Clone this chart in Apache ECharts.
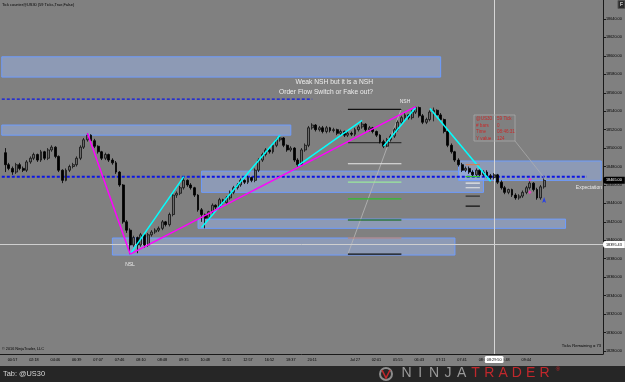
<!DOCTYPE html>
<html><head><meta charset="utf-8">
<script src="https://cdn.jsdelivr.net/npm/echarts@6/dist/echarts.min.js"></script>
<style>html,body{margin:0;padding:0;background:#808080;overflow:hidden}#c{width:625px;height:382px}</style>
</head><body><div id="c"></div>
<script>
// ---- data ----
const xLabels = ["00:57","02:18","04:46","06:39","07:07","07:46","08:10","08:48","09:35","10:48","11:51","12:57","16:52","18:37","20:11","","Jul 27","02:01","05:55","06:43","07:11","07:41","08:05","08:48","09:44"];
const yTicks = [18280,18300,18320,18340,18360,18380,18400,18420,18440,18460,18480,18500,18520,18540,18560,18580,18600,18620,18640];
const opens = [
18495,18482,18478,18474,18482,18478,18476,18485,18489,18493,
18487,18496,18489,18498,18501,18491,18476,18465,18476,18480,
18482,18489,18501,18509,18514,18508,18502,18496,18489,18493,
18487,18484,18474,18460,18420,18411,18395,18403,18395,18406,
18395,18406,18409,18411,18413,18420,18417,18428,18449,18451,
18457,18465,18460,18457,18449,18433,18428,18424,18431,18438,
18436,18444,18441,18446,18452,18457,18460,18465,18463,18468,
18465,18476,18487,18493,18498,18496,18503,18509,18511,18503,
18498,18500,18487,18482,18498,18503,18522,18525,18520,18522,
18518,18522,18519,18520,18516,18518,18514,18516,18515,18520,
18523,18526,18520,18522,18518,18514,18507,18502,18509,18513,
18520,18528,18533,18536,18533,18539,18544,18535,18528,18531,
18539,18541,18536,18531,18518,18503,18496,18487,18482,18476,
18478,18474,18471,18476,18471,18474,18470,18468,18471,18463,
18457,18452,18455,18449,18446,18448,18452,18457,18462,18455,
18446,18458];
const closes = [
18482,18478,18474,18482,18478,18476,18485,18489,18493,18487,
18496,18489,18498,18501,18491,18476,18465,18476,18480,18482,
18489,18501,18509,18514,18508,18502,18496,18489,18493,18487,
18484,18474,18460,18420,18411,18395,18403,18395,18406,18395,
18406,18409,18411,18413,18420,18417,18428,18449,18451,18457,
18465,18460,18457,18449,18433,18428,18424,18431,18438,18436,
18444,18441,18446,18452,18457,18460,18465,18463,18468,18465,
18476,18487,18493,18498,18496,18503,18509,18511,18503,18498,
18500,18487,18482,18498,18503,18522,18525,18520,18522,18518,
18522,18519,18520,18516,18518,18514,18516,18515,18520,18523,
18526,18520,18522,18518,18514,18507,18502,18509,18513,18520,
18528,18533,18536,18533,18539,18544,18535,18528,18531,18539,
18541,18536,18531,18518,18503,18496,18487,18482,18476,18478,
18474,18471,18476,18471,18474,18470,18468,18471,18463,18457,
18452,18455,18449,18446,18448,18452,18457,18462,18455,18446,
18458,18465];
const lows = [
18474,18476,18471,18472,18476,18474,18474,18483,18487,18485,
18485,18487,18487,18496,18489,18474,18462,18464,18474,18478,
18480,18487,18499,18507,18506,18500,18494,18487,18487,18485,
18482,18472,18458,18418,18408,18385,18393,18386,18393,18392,
18393,18404,18407,18409,18411,18415,18415,18426,18446,18449,
18455,18458,18455,18447,18431,18420,18413,18422,18429,18434,
18434,18439,18439,18444,18450,18455,18458,18461,18461,18463,
18463,18474,18485,18491,18494,18494,18501,18507,18501,18496,
18496,18485,18480,18481,18496,18501,18520,18518,18518,18516,
18516,18517,18517,18514,18514,18512,18512,18513,18513,18518,
18521,18518,18518,18516,18512,18505,18500,18501,18507,18511,
18518,18526,18531,18531,18531,18537,18533,18526,18526,18529,
18529,18534,18529,18516,18501,18494,18485,18480,18474,18474,
18472,18469,18469,18469,18469,18468,18466,18466,18461,18455,
18450,18450,18447,18444,18444,18446,18450,18455,18453,18444,
18444,18456];
const highs = [
18500,18484,18480,18484,18484,18480,18487,18491,18495,18494,
18498,18497,18500,18503,18502,18492,18477,18478,18482,18484,
18491,18503,18511,18516,18515,18510,18503,18497,18495,18494,
18489,18486,18475,18461,18422,18413,18405,18404,18408,18407,
18408,18411,18413,18415,18422,18421,18430,18450,18453,18459,
18469,18466,18462,18458,18450,18435,18429,18432,18440,18439,
18446,18445,18448,18454,18459,18462,18467,18466,18470,18469,
18478,18489,18495,18500,18500,18505,18511,18514,18512,18504,
18502,18501,18489,18500,18505,18524,18527,18526,18524,18524,
18524,18523,18522,18521,18520,18519,18518,18518,18522,18525,
18530,18527,18524,18523,18519,18515,18509,18511,18515,18522,
18530,18535,18538,18537,18541,18545,18545,18537,18533,18541,
18544,18542,18538,18532,18519,18505,18497,18489,18484,18480,
18480,18476,18478,18477,18476,18476,18472,18473,18472,18465,
18459,18456,18456,18451,18450,18454,18459,18464,18463,18457,
18460,18467];
// zones: [startIdx, endIdx, low, high]
const zones = [[0,123,18577,18599],[0,81,18514,18525],[56,135,18452,18475],[127.5,168,18465,18486],[54.5,157.5,18413,18423],[31,127,18384,18402.5]];
// zigzag segments [[idx,price],[idx,price]]
const cyanSegs = [[[36,18385],[51,18469]],[[56,18414],[78,18514]],[[83,18481],[101,18530]],[[107,18502],[116,18544]],[[120,18543],[137,18464]]];
const magentaSegs = [[[24,18516],[36,18385]],[[36,18385],[116,18545]]];
const dashLevels = [[0,87,18553],[0,164,18469]];
const fib1Levels = [18542,18506,18483,18463,18445,18422,18402.5,18385];
const fib2Levels = [18482,18469,18462,18457,18448,18437];
const fib1Span = [97,112];
const fib2Span = [130,134];
const fibDiag = [[97,18385],[112,18543]];
const magentaSignals = [[148,18466],[148,18452]];
const blueSignals = [[152,18447]];
const cursorIdx = 137.5, cursorTime = "08:29:50", cursorPrice = 18395.43;

// ---- build ----
const N = 169, firstIdx = 1;
const cats = new Array(N).fill('');
xLabels.forEach((l,k)=>{ cats[3+6*k] = l; });
const candles = cats.map((_,i)=>{ const k=i-firstIdx; return (k>=0 && k<closes.length) ? [opens[k],closes[k],lows[k],highs[k]] : '-'; });
const lastClose = closes[closes.length-1];
const F = 'Liberation Sans, Arial, sans-serif';

const series = [{
  type:'candlestick', data:candles, barWidth:2.4, z:5,
  itemStyle:{color:'#6a6a6a', color0:'#000', borderColor:'#111', borderColor0:'#000', borderWidth:0.8},
  markArea:{silent:true, z:1, itemStyle:{color:'rgba(160,190,255,0.42)', borderColor:'#6d9cff', borderWidth:1},
    data: zones.map(z=>[{xAxis:z[0], yAxis:z[3]},{xAxis:z[1], yAxis:z[2]}])},
  markLine:{silent:true, symbol:['none','none'], animation:false, data:[
    {xAxis:cursorIdx, lineStyle:{color:'#d6d6d6', width:1, type:'solid'},
      label:{show:true, position:'start', distance:2, formatter:cursorTime, backgroundColor:'#fff', color:'#000', fontSize:3.8, fontFamily:F, padding:[1.5,2], borderRadius:1.5}},
    {yAxis:cursorPrice, lineStyle:{color:'#cfcfcf', width:1, type:'solid'},
      label:{show:true, position:'end', distance:0, formatter:cursorPrice.toFixed(2), backgroundColor:'#fff', color:'#000', fontSize:3.8, fontFamily:F, padding:[1.5,3], borderRadius:[3,0,0,3]}},
    {yAxis:lastClose, lineStyle:{color:'rgba(0,0,0,0)', width:0.1, type:'solid'},
      label:{show:true, position:'end', distance:0, formatter:lastClose.toFixed(2), backgroundColor:'#000', color:'#fff', fontSize:3.8, fontFamily:F, padding:[1.5,3], borderRadius:[3,0,0,3], opacity:1}}
  ]}
}];
cyanSegs.forEach(s=>series.push({type:'line', data:s, symbol:'none', z:6, lineStyle:{color:'#00ffff', width:1.5}}));
magentaSegs.forEach(s=>series.push({type:'line', data:s, symbol:'none', z:6, lineStyle:{color:'#ff00ff', width:1.5}}));
dashLevels.forEach((d,k)=>series.push({type:'line', data:[[d[0],d[2]],[d[1],d[2]]], symbol:'none', z:4, lineStyle:{color:'#0a14e6', width:k?2:1.2, type:[3,2]}}));
const fib1Colors = ['#111','#333','#e8e8e8','#9be89b','#2fbf2f','#006400','#c9825f','#111'];
fib1Levels.forEach((p,k)=>series.push({type:'line', data:[[fib1Span[0],p],[fib1Span[1],p]], symbol:'none', z:4, lineStyle:{color:fib1Colors[k], width:1.2}}));
const fib2Colors = ['#c9825f','#2fbf2f','#e8e8e8','#e8e8e8','#333','#111'];
fib2Levels.forEach((p,k)=>series.push({type:'line', data:[[fib2Span[0],p],[fib2Span[1],p]], symbol:'none', z:7, lineStyle:{color:fib2Colors[k], width:1.2}}));
series.push({type:'line', data:fibDiag, symbol:'none', z:3, lineStyle:{color:'#b8b8b8', width:0.8}});
series.push({type:'scatter', data:magentaSignals, symbol:'diamond', symbolSize:3.5, z:8, itemStyle:{color:'#ff33cc'}});
series.push({type:'scatter', data:blueSignals, symbol:'arrow', symbolSize:[3,6], z:8, itemStyle:{color:'#1030ff'}});

function txt(x,y,text,size,color,align){ return {type:'text', x:x, y:y, z:50, silent:true, style:{text:text, fill:color, fontSize:size, fontFamily:F, textAlign:align||'left', textVerticalAlign:'middle'}}; }
const graphics = [
  {type:'rect', shape:{x:0,y:366,width:625,height:16}, style:{fill:'#262626'}, z:40, silent:true},
  txt(2,4.5,'Tick counter@US30 (59 Ticks,True,False)',3.9,'#000'),
  {type:'rect', shape:{x:618,y:0.5,width:7,height:8}, style:{fill:'#2a2a2a', stroke:'#555'}, z:50, silent:true},
  txt(621.5,4.5,'F',5,'#fff','center'),
  txt(2,349,'\u00a9 2016 NinjaTrader, LLC',3.8,'#000'),
  txt(601,346,'Ticks Remaining = 73',4.1,'#000','right'),
  txt(373,82,'Weak NSH but it is a NSH',6.7,'#ececec','right'),
  txt(373,92,'Order Flow Switch or Fake out?',6.7,'#ececec','right'),
  txt(405,102,'NSH',5,'#ececec','center'),
  txt(130,265,'NSL',5,'#ececec','center'),
  txt(602,188,'Expectation',5,'#e8e8e8','right'),
  {type:'rect', shape:{x:474,y:115,width:41,height:26}, style:{fill:'none', stroke:'#a8a8a8', lineWidth:0.8}, z:45, silent:true},
  {type:'line', shape:{x1:515,y1:141,x2:546,y2:180}, style:{stroke:'#b0b0b0', lineWidth:0.7}, z:45, silent:true},
  txt(476,119,'@US30',4.6,'#c62a2a'), txt(497,119,'59 Tick',4.6,'#c62a2a'),
  txt(476,125.5,'# bars',4.6,'#c62a2a'), txt(497,125.5,'0',4.6,'#c62a2a'),
  txt(476,132,'Time',4.6,'#c62a2a'), txt(497,132,'08:46:31',4.6,'#c62a2a'),
  txt(476,138.5,'Y value',4.6,'#c62a2a'), txt(497,138.5,'124',4.6,'#c62a2a'),
  txt(3,374,'Tab: @US30',7.4,'#d8d8d8'),
  {type:'circle', shape:{cx:386,cy:374,r:6}, style:{fill:'none', stroke:'#8c8c8c', lineWidth:2}, z:50, silent:true},
  {type:'polyline', shape:{points:[[382,370],[386,378],[390,370]]}, style:{fill:'none', stroke:'#c0282c', lineWidth:1.6}, z:51, silent:true}
];
'NINJATRADER'.split('').forEach((ch,k)=>graphics.push(txt(406.5+13.8*k,373.5,ch,14,k<5?'#9a9a9a':'#c0282c','center')));
graphics.push(txt(558,369,'\u00ae',6,'#c0282c','center'));

const chart = echarts.init(document.getElementById('c'), null, {renderer:'canvas'});
chart.setOption({
  backgroundColor:'#808080', animation:false,
  grid:{left:-2.5, right:22, top:0, bottom:28, containLabel:false},
  xAxis:{type:'category', data:cats, boundaryGap:true,
    axisLine:{lineStyle:{color:'#1a1a1a', width:1}},
    axisTick:{alignWithLabel:true, length:3, interval:(i,v)=>v!=='', lineStyle:{color:'#1a1a1a'}},
    axisLabel:{interval:(i,v)=>v!=='', fontSize:3.8, fontFamily:F, color:'#000', margin:4},
    splitLine:{show:false}},
  yAxis:{type:'value', position:'right', min:18276.7, max:18660.6, scale:true,
    axisLine:{show:true, lineStyle:{color:'#1a1a1a', width:1}},
    axisTick:{show:true, length:3, customValues:yTicks, lineStyle:{color:'#1a1a1a'}},
    axisLabel:{customValues:yTicks, fontSize:3.8, fontFamily:F, color:'#000', margin:3, formatter:v=>v.toFixed(2)},
    splitLine:{show:false}},
  series:series,
  graphic:graphics
});
</script></body></html>
